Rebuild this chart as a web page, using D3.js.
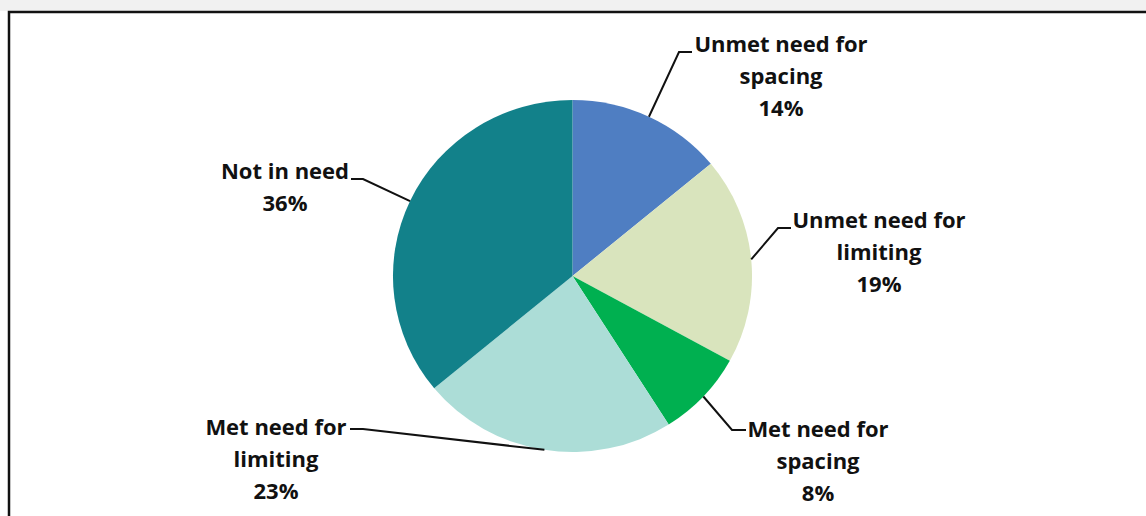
<!DOCTYPE html>
<html>
<head>
<meta charset="utf-8">
<script src="https://cdn.jsdelivr.net/npm/d3@7"></script>
<style>
  html, body { margin: 0; padding: 0; background: #fff; }
  svg text { font-family: "Open Sans", "DejaVu Sans", sans-serif; font-weight: 700; fill: #111; }
</style>
</head>
<body>
<div id="chart"></div>
<script>
// slice data, clockwise from 12 o'clock
var categories = ["Unmet need for spacing", "Unmet need for limiting", "Met need for spacing", "Met need for limiting", "Not in need"];
var values = [14, 19, 8, 23, 36];
var labelLines = [
    ["Unmet need for", "spacing"],
    ["Unmet need for", "limiting"],
    ["Met need for", "spacing"],
    ["Met need for", "limiting"],
    ["Not in need"]
];
var colors = ["#4f7ec2", "#d9e4bd", "#00b050", "#acddd7", "#12818a"];

// label placement (layout, not data)
var labelLayout = [
    { x: 781, y: 52,  elbow: [679, 52],  end: [692, 52] },
    { x: 879, y: 228, elbow: [778, 228], end: [791, 228] },
    { x: 818, y: 437, elbow: [732, 430], end: [746, 430] },
    { x: 276, y: 435, elbow: [363, 429], end: [350, 429] },
    { x: 285, y: 179, elbow: [363, 179], end: [351, 179] }
];

var width = 1146, height = 516;
var cx = 572.5, cy = 276, radius = 176, stretchX = 1.02;
var lineHeight = 32;

var svg = d3.select("#chart").append("svg")
    .attr("width", width)
    .attr("height", height);

// faint strip above the frame
svg.append("rect")
    .attr("x", 0).attr("y", 0)
    .attr("width", width).attr("height", 11)
    .attr("fill", "#f1f1f1");

// frame
svg.append("path")
    .attr("d", "M9," + (height + 5) + " L9,12 L" + (width + 5) + ",12")
    .attr("fill", "none")
    .attr("stroke", "#111")
    .attr("stroke-width", 2.5);

var pie = d3.pie()
    .sort(null)
    .value(function(d) { return d; });

var arcs = pie(values);

var arc = d3.arc()
    .innerRadius(0)
    .outerRadius(radius);

var g = svg.append("g")
    .attr("transform", "translate(" + cx + "," + cy + ") scale(" + stretchX + ",1)");

g.selectAll("path")
    .data(arcs)
    .enter()
    .append("path")
    .attr("d", arc)
    .attr("fill", function(d, i) { return colors[i]; });

// leader lines from the middle of each slice edge
var leaders = svg.append("g").attr("class", "leaders");

leaders.selectAll("polyline")
    .data(arcs)
    .enter()
    .append("polyline")
    .attr("points", function(d, i) {
        var a = (d.startAngle + d.endAngle) / 2;
        var sx = cx + radius * stretchX * Math.sin(a);
        var sy = cy - radius * Math.cos(a);
        var L = labelLayout[i];
        return [[sx, sy], L.elbow, L.end].map(function(p) { return p.join(","); }).join(" ");
    })
    .attr("fill", "none")
    .attr("stroke", "#111")
    .attr("stroke-width", 2);

// labels
var labels = svg.append("g").attr("class", "labels");

labels.selectAll("text")
    .data(arcs)
    .enter()
    .append("text")
    .attr("text-anchor", "middle")
    .attr("font-size", 22)
    .each(function(d, i) {
        var t = d3.select(this);
        var L = labelLayout[i];
        var lines = labelLines[i].concat([values[i] + "%"]);
        lines.forEach(function(s, k) {
            t.append("tspan")
                .attr("x", L.x)
                .attr("y", L.y + k * lineHeight)
                .text(s);
        });
    });
</script>
</body>
</html>
